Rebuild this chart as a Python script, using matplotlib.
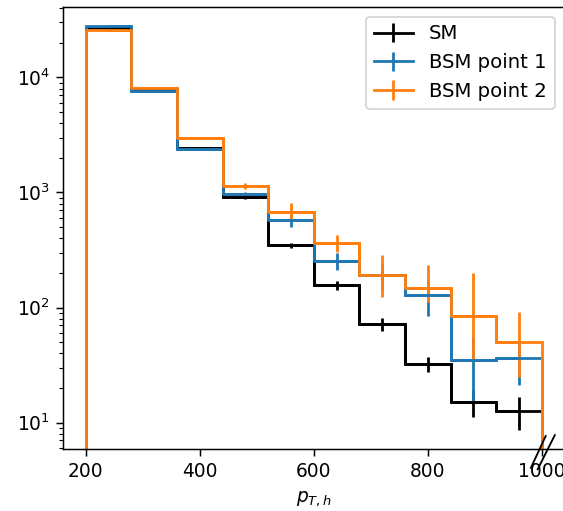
import matplotlib
matplotlib.use("Agg")
import matplotlib.pyplot as plt
import matplotlib.transforms as mtransforms
import numpy as np

# ---- data ----
edges = [200, 280, 360, 440, 520, 600, 680, 760, 840, 920, 1000]
sm = [26700, 7850, 2450, 908, 349, 156, 72, 32.4, 15.2, 12.6]
sm_err = [165, 90, 50, 30, 18, 13, 9, 5, 4, 4]
bsm1 = [27700, 7680, 2380, 970, 577, 255, 191, 129, 35, 36.3]
bsm1_err = [170, 90, 50, 45, 75, 45, 50, 45, 20, 15]
bsm2 = [25700, 8020, 2950, 1138, 681, 362, 192, 147, 85, 50.5]
bsm2_err_lo = [160, 90, 55, 60, 104, 57, 68, 35, 50, 25.5]
bsm2_err_hi = [160, 90, 55, 60, 124, 65, 95, 87, 115, 41]
labels = ["SM", "BSM point 1", "BSM point 2"]
colors = ["black", "#1f77b4", "#ff7f0e"]

dpi = 134
fig = plt.figure(figsize=(563 / dpi, 511 / dpi), dpi=dpi)
W, H = 563, 511
left, right, top, bottom = 63, 564.5, 6.7, 449.3
ax = fig.add_axes([left / W, 1 - bottom / H, (right - left) / W, (bottom - top) / H])

e = np.array(edges, dtype=float)
centers = 0.5 * (e[:-1] + e[1:])

series = [
    (sm, [sm_err, sm_err]),
    (bsm1, [bsm1_err, bsm1_err]),
    (bsm2, [bsm2_err_lo, bsm2_err_hi]),
]
for (vals, errs), lab, c in zip(series, labels, colors):
    ax.stairs(vals, e, baseline=0, color=c, linewidth=1.5)
    ax.errorbar(centers, vals, yerr=errs, drawstyle="steps-mid",
                color=c, linewidth=1.5, elinewidth=1.5, label=lab)

ax.set_yscale("log")
ax.set_xlim(160, 1040)
ax.set_ylim(5.87, 41100)
ax.set_xticks([200, 400, 600, 800, 1000])
ax.set_xlabel(r"$p_{T,h}$")
ax.legend(loc="upper right", fontsize=10.6)

# axis-break marks near x=1000
trans = mtransforms.blended_transform_factory(ax.transData, ax.transAxes)
ax.plot([981, 1007], [-0.042, 0.030], color="black", lw=1.0,
        transform=trans, clip_on=False)
ax.plot([993, 1023], [-0.045, 0.032], color="black", lw=1.0,
        transform=trans, clip_on=False)

fig.savefig("out.png", dpi=dpi)
